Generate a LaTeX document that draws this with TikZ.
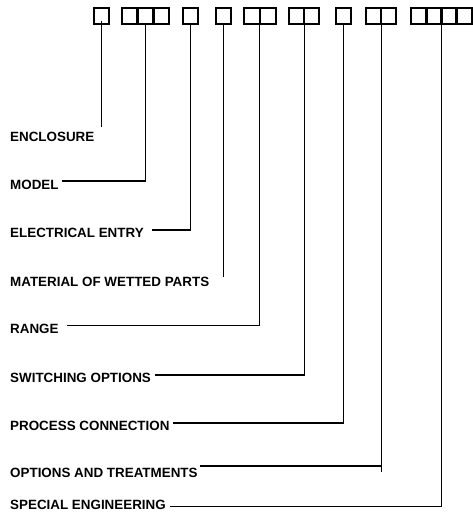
\documentclass[tikz,border=0pt]{standalone}
\usepackage{fontspec}
\setmainfont{Liberation Sans}
\begin{document}
\begin{tikzpicture}[x=1pt, y=-1pt, every node/.style={font=\bfseries\fontsize{13.4}{15}\selectfont},
    cell/.style={draw, line width=1.8pt, minimum width=15.5pt, minimum height=16pt, inner sep=0pt, outer sep=0pt},
    lbl/.style={anchor=base west, inner sep=0pt},
    lead/.style={line width=1.3pt}]
    \useasboundingbox (0,0) rectangle (472,512);
    % code boxes
    \node[cell] (enc) at (101.5,16) {};
    \node[cell] (mdl1) at (129.5,16) {};
    \node[cell] (mdl2) at (145.5,16) {};
    \node[cell] (mdl3) at (161.5,16) {};
    \node[cell] (ele) at (190.5,16) {};
    \node[cell] (mat) at (223.5,16) {};
    \node[cell] (rng1) at (252,16) {};
    \node[cell] (rng2) at (268,16) {};
    \node[cell] (swi1) at (296.5,16) {};
    \node[cell] (swi2) at (311.5,16) {};
    \node[cell] (prc) at (343.5,16) {};
    \node[cell] (opt1) at (373.5,16) {};
    \node[cell] (opt2) at (388.5,16) {};
    \node[cell] (spc1) at (419,16) {};
    \node[cell] (spc2) at (434,16) {};
    \node[cell] (spc3) at (449,16) {};
    \node[cell] (spc4) at (464,16) {};
    % labels
    \node[lbl] (encL) at (10,141.5) {ENCLOSURE};
    \node[lbl] (mdlL) at (10,189.5) {MODEL};
    \node[lbl] (eleL) at (10,237.5) {ELECTRICAL ENTRY};
    \node[lbl] (matL) at (10,286) {MATERIAL OF WETTED PARTS};
    \node[lbl] (rngL) at (10,333.5) {RANGE};
    \node[lbl] (swiL) at (10,382.5) {SWITCHING OPTIONS};
    \node[lbl] (prcL) at (10,430) {PROCESS CONNECTION};
    \node[lbl] (optL) at (10,477) {OPTIONS AND TREATMENTS};
    \node[lbl] (spcL) at (10,509) {SPECIAL ENGINEERING};
    % leader ends
    \coordinate (encE) at (101.5,127);
    \coordinate (mdlE) at (62,181);
    \coordinate (eleE) at (152,230);
    \coordinate (matE) at (223.5,277);
    \coordinate (rngE) at (67,325.5);
    \coordinate (swiE) at (155,375);
    \coordinate (prcE) at (173,423);
    \coordinate (optE) at (200,466);
    \coordinate (optT) at (381,472);
    \coordinate (spcE) at (170,506.5);
    % leaders
    \draw[lead] ([yshift=-5pt]enc.center) -- (encE);
    \draw[lead] (mdl2.south) |- (mdlE);
    \draw[lead] (ele.south) |- (eleE);
    \draw[lead] (mat.south) -- (matE);
    \draw[lead] (rng1.south east) |- (rngE);
    \draw[lead] (swi1.south east) |- (swiE);
    \draw[lead] (prc.south) |- (prcE);
    \draw[lead] (opt1.south east) |- (optE);
    \draw[lead] (opt1.south east) -- (opt1.south east |- optT);
    \draw[lead] (spc2.south east) |- (spcE);
\end{tikzpicture}
\end{document}
